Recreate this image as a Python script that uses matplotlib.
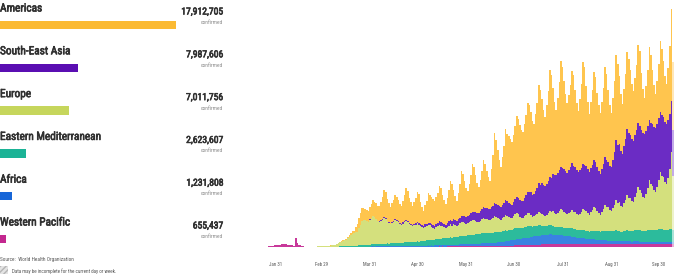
import numpy as np
import pandas as pd
import matplotlib
matplotlib.use("Agg")
import matplotlib.pyplot as plt
from matplotlib.patches import Rectangle
from matplotlib import font_manager as fm
import matplotlib.patheffects as pe

# ---------------- data ----------------
regions = ["Americas", "South-East Asia", "Europe", "Eastern Mediterranean", "Africa", "Western Pacific"]
confirmed = [17912705, 7987606, 7011756, 2623607, 1231808, 655437]

start_date = "2020-01-25"
tick_dates = ["2020-01-31", "2020-02-29", "2020-03-31", "2020-04-30", "2020-05-31",
              "2020-06-30", "2020-07-31", "2020-08-31", "2020-09-30"]
tick_labels = ["Jan 31", "Feb 29", "Mar 31", "Apr 30", "May 31", "Jun 30", "Jul 31", "Aug 31", "Sep 30"]

# daily new cases (thousands), one week per line, starting Sat Jan 25
americas = [
    0, 0, 0, 0, 0, 0, 0,
    0, 0, 0, 0, 0, 0, 0,
    0, 0, 0, 0, 0, 0, 0,
    0, 0, 0, 0, 0, 0, 0,
    0, 0, 0, 0, 0, 0, 0,
    0, 0, 0, 0, 0, 0, 0.1,
    0.1, 0.1, 0.1, 0.1, 0.2, 0.3, 0.5,
    0.6, 0.8, 1, 1.2, 1.5, 2, 2.5,
    2, 5, 8, 10, 12, 13, 12,
    11, 11, 11, 12, 14, 16, 15,
    15.5, 15, 15, 18, 22, 27, 26,
    22, 19, 17, 19, 21, 24, 23,
    21, 19, 18, 21, 26, 32, 30,
    25, 22, 19, 22, 25, 30, 29,
    22, 18, 15, 19, 23, 30, 28,
    27, 26, 25, 27, 30, 35, 34,
    28, 24, 21, 25, 31, 39, 37,
    29, 24, 20, 26, 34, 45, 42,
    35, 29, 25, 31, 38, 48, 45,
    37, 30, 26, 31, 38, 47, 44,
    37, 32, 28, 38, 51, 70, 64,
    55, 46, 40, 48, 57, 71, 67,
    67, 65, 63, 67, 73, 81, 79,
    75, 71, 69, 74, 80, 89, 87,
    80, 74, 70, 77, 85, 98, 95,
    84, 75, 69, 79, 90, 107, 103,
    86, 73, 65, 75, 88, 106, 101,
    88, 77, 70, 75, 82, 92, 90,
    77, 67, 61, 71, 84, 102, 98,
    80, 67, 58, 66, 75, 88, 85,
    74, 66, 60, 67, 76, 89, 86,
    72, 61, 54, 62, 71, 85, 81,
    68, 57, 50, 57, 65, 77, 74,
    64, 55, 50, 57, 65, 78, 75,
    57, 44, 36, 45, 56, 73, 68,
    54, 42, 34, 43, 54, 71, 66,
    56, 46, 40, 52, 68, 92, 67,
]
south_east_asia = [
    0, 0, 0, 0, 0, 0, 0,
    0, 0, 0, 0, 0, 0, 0,
    0, 0, 0, 0, 0, 0, 0,
    0, 0, 0, 0, 0, 0, 0,
    0, 0, 0, 0, 0, 0, 0,
    0, 0, 0, 0, 0, 0, 0,
    0, 0, 0, 0, 0, 0, 0,
    0, 0, 0, 0, 0, 0, 0,
    0, 0, 0, 0, 0, 0, 0,
    0, 0, 0.2, 0.3, 0.3, 0.3, 0.3,
    0.5, 0.5, 0.6, 0.7, 0.7, 0.8, 0.8,
    0.8, 0.8, 0.8, 0.9, 1, 1, 1,
    1, 1, 1, 1.1, 1.1, 1.2, 1.2,
    1.2, 1.2, 1.2, 1.3, 1.4, 1.5, 1.5,
    1.7, 1.8, 2, 2.2, 2.4, 2.5, 2.5,
    2.8, 2.9, 3, 3.2, 3.4, 3.5, 3.5,
    3.6, 3.5, 3.5, 3.8, 4.2, 4.5, 4.5,
    4.8, 5, 5, 5.3, 5.6, 6, 6,
    6.8, 7, 7, 7.3, 7.6, 8, 8,
    8.8, 9, 9, 9.5, 10, 11, 11,
    11, 11, 11, 11.5, 12, 13, 13,
    13, 13, 13, 13.5, 14, 15, 15,
    14, 13.5, 13, 14, 15, 16, 16,
    16.5, 16.5, 17, 18, 19.5, 21, 21,
    23, 22, 22, 24, 26, 29, 28,
    31, 30, 30, 31, 32, 34, 34,
    37, 38, 39, 40, 41, 42, 42,
    43, 42, 41, 43, 45, 47, 46,
    45, 44, 43, 44, 44, 45, 45,
    45, 44, 43, 44, 45, 47, 46,
    44, 42, 41, 43, 45, 48, 47,
    45, 44, 44, 48, 53, 60, 58,
    58, 55, 53, 57, 61, 66, 65,
    63, 62, 61, 62, 63, 64, 64,
    63, 64, 64, 63, 62, 60, 61,
    62, 63, 64, 63, 62, 60, 61,
    60, 60, 60, 58, 55, 51, 46,
]
europe = [
    0, 0, 0, 0, 0, 0, 0,
    0, 0, 0, 0, 0, 0, 0,
    0, 0, 0, 0, 0, 0, 0,
    0, 0, 0, 0, 0.1, 0.1, 0.1,
    0.1, 0.1, 0.1, 0.2, 0.2, 0.3, 0.3,
    0.2, 0.3, 0.4, 0.5, 0.7, 0.9, 1.1,
    1.4, 1.7, 2.0, 2.6, 3.2, 4.0, 4.6,
    5.5, 6, 6.5, 8, 9.5, 11, 12.5,
    13, 13.5, 14, 17, 20, 24, 25,
    25, 24, 23, 25, 26, 28, 27,
    25, 23, 22, 23, 24, 26, 25,
    22, 21, 19, 20, 21, 23, 22,
    21, 19, 18, 19, 20, 21, 20,
    18, 17, 16, 17, 17, 18, 17,
    15, 14, 13, 14, 14, 15, 15,
    13, 12, 11, 12, 13, 14, 13,
    12, 11, 10, 11, 12, 13, 12,
    13, 12, 11, 12, 13, 14, 14,
    13, 12, 12, 13, 14, 15, 15,
    13, 12, 12, 13, 14, 15, 14,
    14, 13, 13, 14, 15, 16, 15,
    14, 13, 12, 13, 14, 15, 15,
    13, 12, 12, 13, 14, 15, 14,
    11, 10, 10, 11, 12, 13, 13,
    11, 10, 10, 11, 12, 13, 12,
    12, 11, 10, 11, 12, 14, 13,
    15, 14, 13, 14, 16, 18, 17,
    16, 15, 14, 15, 16, 18, 17,
    17, 16, 15, 16, 18, 21, 20,
    20, 18, 17, 19, 21, 24, 23,
    20, 18, 17, 19, 22, 26, 24,
    24, 21, 20, 23, 26, 30, 28,
    29, 26, 25, 28, 31, 35, 33,
    33, 30, 29, 33, 37, 43, 40,
    38, 34, 33, 37, 42, 50, 46,
    44, 40, 38, 43, 49, 57, 53,
    53, 48, 46, 52, 60, 77, 54,
]
eastern_mediterranean = [
    0, 0, 0, 0, 0, 0, 0,
    0, 0, 0, 0, 0, 0, 0,
    0, 0, 0, 0, 0, 0, 0,
    0, 0, 0, 0, 0, 0, 0,
    0, 0, 0, 0, 0, 0, 0.1,
    0.1, 0.1, 0.1, 0.1, 0.2, 0.2, 0.2,
    0.2, 0.3, 0.3, 0.3, 0.3, 0.4, 0.4,
    0.4, 0.4, 0.5, 0.5, 0.6, 0.6, 0.7,
    1, 1.2, 1.3, 1.5, 1.7, 1.8, 2,
    2, 1.9, 1.9, 2, 2.1, 2.2, 2.1,
    2.3, 2.3, 2.4, 2.5, 2.6, 2.7, 2.6,
    2.8, 2.8, 2.9, 3, 3.1, 3.2, 3.1,
    3.3, 3.3, 3.4, 3.5, 3.6, 3.7, 3.6,
    3.8, 3.8, 3.9, 4, 4.1, 4.3, 4.2,
    4.6, 4.7, 4.8, 5, 5.2, 5.4, 5.3,
    5.6, 5.7, 5.8, 6, 6.2, 6.4, 6.3,
    6.6, 6.7, 6.8, 7, 7.2, 7.4, 7.3,
    7.6, 7.7, 7.8, 8, 8.2, 8.4, 8.3,
    8.6, 8.7, 8.8, 9, 9.2, 9.4, 9.3,
    9.5, 9.6, 9.6, 10, 10.2, 10.5, 10.3,
    10, 9.8, 9.6, 10, 10.2, 10.4, 10.2,
    10.2, 10, 10, 10.5, 10.8, 11, 10.8,
    10.8, 10.6, 10.5, 11, 11.2, 11.5, 11.3,
    11, 10.8, 10.6, 11, 11.2, 11.4, 11.2,
    10.4, 10.2, 10, 10, 10.2, 10.4, 10.2,
    9.4, 9.2, 9, 9, 9.2, 9.4, 9.2,
    8.4, 8.2, 8, 8, 8.2, 8.4, 8.2,
    8, 7.8, 7.8, 8, 8.2, 8.4, 8.2,
    8, 7.8, 7.8, 8, 8.2, 8.4, 8.2,
    8, 7.8, 7.6, 8, 8.2, 8.4, 8.2,
    8.8, 8.6, 8.6, 9, 9.2, 9.6, 9.2,
    9.8, 9.6, 9.5, 10, 10.2, 10.6, 10.2,
    9.8, 9.6, 9.5, 10, 10.3, 10.8, 10.4,
    10.8, 10.6, 10.5, 11, 11.3, 11.8, 11.4,
    10.8, 10.6, 10.5, 11, 11.3, 11.8, 11.4,
    11.8, 11.6, 11.5, 12, 12.3, 12.8, 12.4,
    11.8, 11.6, 11.5, 12, 12.3, 12.8, 12.4,
]
africa = [
    0, 0, 0, 0, 0, 0, 0,
    0, 0, 0, 0, 0, 0, 0,
    0, 0, 0, 0, 0, 0, 0,
    0, 0, 0, 0, 0, 0, 0,
    0, 0, 0, 0, 0, 0, 0,
    0, 0, 0, 0, 0, 0, 0,
    0, 0, 0, 0, 0, 0, 0,
    0, 0, 0, 0, 0, 0, 0,
    0, 0, 0, 0, 0.1, 0.1, 0.1,
    0.1, 0.1, 0.2, 0.2, 0.2, 0.2, 0.2,
    0.3, 0.3, 0.3, 0.3, 0.3, 0.3, 0.3,
    0.4, 0.4, 0.4, 0.4, 0.4, 0.4, 0.4,
    0.5, 0.5, 0.6, 0.6, 0.6, 0.7, 0.7,
    0.7, 0.7, 0.8, 0.8, 0.8, 0.9, 0.9,
    0.9, 0.9, 1, 1, 1, 1.1, 1.1,
    1.1, 1.1, 1.2, 1.2, 1.2, 1.3, 1.3,
    1.4, 1.4, 1.5, 1.5, 1.6, 1.6, 1.6,
    1.7, 1.7, 1.8, 1.8, 1.9, 1.9, 1.9,
    2.1, 2.1, 2.2, 2.2, 2.3, 2.3, 2.3,
    2.5, 2.5, 2.7, 2.7, 2.8, 2.9, 2.9,
    3.1, 3.1, 3.3, 3.3, 3.4, 3.5, 3.5,
    3.9, 4, 4.2, 4.3, 4.4, 4.6, 4.6,
    5.1, 5.2, 5.5, 5.6, 5.8, 6, 6,
    6.6, 6.7, 7, 7.1, 7.3, 7.5, 7.5,
    8, 8.1, 8.5, 8.6, 8.8, 9, 9,
    9.2, 9.3, 9.5, 9.6, 9.7, 9.9, 9.8,
    9.4, 9.2, 9, 8.9, 8.8, 8.8, 8.6,
    8.2, 8, 7.6, 7.4, 7.3, 7.2, 7,
    6.6, 6.4, 6, 5.9, 5.8, 5.7, 5.6,
    5.2, 5, 4.8, 4.7, 4.7, 4.6, 4.5,
    4.3, 4.2, 4, 4, 3.9, 3.9, 3.8,
    3.7, 3.6, 3.5, 3.5, 3.4, 3.4, 3.4,
    3.3, 3.2, 3.1, 3.1, 3, 3, 3,
    3, 2.9, 2.9, 2.9, 2.8, 2.8, 2.8,
    2.7, 2.6, 2.6, 2.6, 2.6, 2.6, 2.5,
    2.5, 2.5, 2.5, 2.5, 2.5, 2.5, 2.5,
    2.5, 2.4, 2.4, 2.5, 2.5, 2.5, 2.4,
]
western_pacific = [
    0.5, 0.7, 0.9, 1.3, 1.6, 1.8, 2.0,
    2.2, 2.5, 2.8, 3.0, 3.1, 3.2, 3.0,
    2.8, 2.6, 2.5, 2.2, 1.8, 9.0, 4.0,
    2.3, 2.0, 1.8, 1.5, 0.6, 0.7, 0.7,
    0.5, 0.6, 0.4, 0.6, 0.5, 0.6, 0.6,
    0.7, 0.6, 0.5, 0.7, 0.6, 0.6, 0.5,
    0.6, 0.5, 0.4, 0.5, 0.5, 0.6, 0.5,
    0.6, 0.5, 0.5, 0.6, 0.6, 0.7, 0.6,
    0.6, 0.6, 0.5, 0.6, 0.7, 0.7, 0.6,
    0.6, 0.6, 0.5, 0.6, 0.7, 0.7, 0.6,
    0.7, 0.6, 0.6, 0.7, 0.7, 0.8, 0.7,
    0.7, 0.6, 0.6, 0.7, 0.7, 0.8, 0.7,
    0.7, 0.6, 0.6, 0.7, 0.7, 0.8, 0.7,
    0.7, 0.6, 0.6, 0.7, 0.7, 0.8, 0.7,
    0.7, 0.6, 0.6, 0.7, 0.7, 0.8, 0.7,
    0.8, 0.7, 0.7, 0.8, 0.8, 0.9, 0.8,
    0.9, 0.8, 0.8, 0.9, 0.9, 1, 0.9,
    1, 0.9, 0.9, 1, 1, 1.1, 1,
    1, 0.9, 0.9, 1, 1, 1.1, 1,
    1.1, 1, 1, 1.1, 1.1, 1.2, 1.1,
    1.2, 1.1, 1.1, 1.2, 1.2, 1.3, 1.2,
    1.4, 1.3, 1.3, 1.4, 1.4, 1.5, 1.4,
    1.7, 1.7, 1.8, 1.8, 1.9, 1.9, 1.9,
    2.1, 2.1, 2.2, 2.2, 2.3, 2.3, 2.3,
    2.5, 2.5, 2.6, 2.6, 2.7, 2.7, 2.7,
    2.9, 2.9, 3, 3, 3.1, 3.1, 3.1,
    3.2, 3.2, 3.3, 3.3, 3.4, 3.4, 3.4,
    3.4, 3.4, 3.5, 3.5, 3.6, 3.6, 3.6,
    3.5, 3.4, 3.5, 3.5, 3.6, 3.6, 3.5,
    3.3, 3.2, 3.3, 3.3, 3.4, 3.4, 3.3,
    3.2, 3.1, 3.2, 3.2, 3.3, 3.3, 3.2,
    3, 2.9, 3, 3, 3.1, 3.1, 3,
    3, 2.9, 3, 3, 3.1, 3.1, 3,
    3, 2.9, 3, 3, 3.1, 3.1, 3,
    3, 2.9, 3, 3, 3.1, 3.1, 3,
    3, 2.9, 3, 3, 3.1, 3.1, 3,
    3, 2.9, 3, 3, 3.1, 3.1, 3,
]

# ---------------- style ----------------
bar_colors = ["#FBBA33", "#5A0EB2", "#C6D65C", "#1BB396", "#1766D8", "#C3278F"]
chart_colors = {"Western Pacific": "#C8389A", "Africa": "#3A82E2", "Eastern Mediterranean": "#2CBB9C",
                "Europe": "#D4E07D", "South-East Asia": "#6B2CC4", "Americas": "#FFC54E"}

# pick a condensed face if one is installed, otherwise a compact sans
names = {f.name for f in fm.fontManager.ttflist}
font_kw = {"family": ["Roboto", "Liberation Sans", "DejaVu Sans"], "stretch": "normal"}
for fam in ["Roboto Condensed", "Liberation Sans Narrow", "Arial Narrow", "Open Sans Condensed"]:
    if fam in names:
        font_kw = {"family": [fam, "DejaVu Sans"], "stretch": "normal"}
        break
else:
    for fam in ["Roboto", "Noto Sans", "Open Sans", "DejaVu Sans"]:
        if any(f.name == fam and str(f.stretch) in ("condensed", "semi-condensed", "extra-condensed")
               for f in fm.fontManager.ttflist):
            font_kw = {"family": [fam, "DejaVu Sans"], "stretch": "condensed"}
            break
plt.rcParams["font.family"] = font_kw["family"]
plt.rcParams["font.stretch"] = font_kw["stretch"]

W, H = 676, 277
fig = plt.figure(figsize=(W / 100, H / 100), dpi=100)
fig.patch.set_facecolor("white")
heavy = [pe.withStroke(linewidth=0.45, foreground="#303030")]

# ---------- left legend panel ----------
axL = fig.add_axes([0, 0, 264 / W, 1])
axL.set_xlim(0, confirmed[0] * 264 / 176)
row_px0, row_step = 25, 42.8
axL.set_ylim((H - row_px0) / row_step, -row_px0 / row_step)
axL.axis("off")
rows = np.arange(len(regions))
axL.barh(rows, confirmed, height=8.5 / row_step, color=bar_colors, left=0)
label_txt, num_txt, conf_txt = [], [], []
for i, (name, val) in enumerate(zip(regions, confirmed)):
    label_txt.append(axL.annotate(name, xy=(0, i), xycoords="data", xytext=(0, 13.5),
                                  textcoords="offset pixels", ha="left", va="baseline",
                                  fontsize=8.6, color="#303030", path_effects=heavy))
    num_txt.append(axL.annotate(f"{val:,}", xy=(223 / 264, i), xycoords=("axes fraction", "data"),
                                xytext=(0, 10.5), textcoords="offset pixels", ha="right",
                                va="baseline", fontsize=7.3, color="#303030", path_effects=heavy))
    conf_txt.append(axL.annotate("confirmed", xy=(223 / 264, i), xycoords=("axes fraction", "data"),
                                 xytext=(0, 1), textcoords="offset pixels", ha="right",
                                 va="baseline", fontsize=4.3, color="#8a8a8a"))

src = fig.text(0.5 / W, 1 - 260.7 / H, "Source:  World Health Organization", fontsize=4.3,
               color="#555555", ha="left", va="baseline")
fig.add_artist(Rectangle((0, 1 - 273.5 / H), 8 / W, 8 / H, transform=fig.transFigure,
                         facecolor="#e4e4e4", edgecolor="#b5b5b5", hatch="//////", lw=0))
note = fig.text(12 / W, 1 - 272.7 / H, "Data may be incomplete for the current day or week.",
                fontsize=4.3, color="#555555", ha="left", va="baseline")

# ---------- stacked daily bar chart ----------
axC = fig.add_axes([262 / W, (H - 247.3) / H, 414 / W, (247.3 - 8) / H])
dates = pd.date_range(start_date, periods=len(americas), freq="D")
x = np.arange(len(dates))
stack = [("Western Pacific", western_pacific), ("Africa", africa),
         ("Eastern Mediterranean", eastern_mediterranean), ("Europe", europe),
         ("South-East Asia", south_east_asia), ("Americas", americas)]
bottom = np.zeros(len(x))
last = len(x) - 1
for name, vals in stack:
    v = np.asarray(vals, dtype=float)
    axC.bar(x[:last], v[:last], bottom=bottom[:last], width=1.0, color=chart_colors[name],
            linewidth=0, align="center")
    axC.bar(x[last:], v[last:], bottom=bottom[last:], width=1.0, color=chart_colors[name],
            linewidth=0, alpha=0.4, align="center")
    bottom += v

tick_pos = [(pd.Timestamp(d) - dates[0]).days for d in tick_dates]
axC.set_xticks(tick_pos)
axC.set_xticklabels(tick_labels, fontsize=4.0, color="#555555")
axC.tick_params(axis="x", length=0, pad=10.5)
axC.set_yticks([])
axC.set_xlim(-2.4, 259.9)
axC.set_ylim(0, 239.3)
for s in axC.spines.values():
    s.set_visible(False)
axC.patch.set_alpha(0)

# ---------- fit text widths to the reference ----------
fig.canvas.draw()
r = fig.canvas.get_renderer()


def fit(texts, ref_text, target_px):
    wpx = ref_text.get_window_extent(r).width
    k = target_px / wpx
    for t in texts:
        t.set_fontsize(t.get_fontsize() * k)


fit(label_txt, label_txt[3], 101)
fit(num_txt, num_txt[0], 42)
fit(conf_txt, conf_txt[0], 22)
fit([src], src, 73)
fit([note], note, 106)
fit(axC.get_xticklabels(), axC.get_xticklabels()[0], 13)

fig.savefig("out.png", dpi=100, facecolor="white")
